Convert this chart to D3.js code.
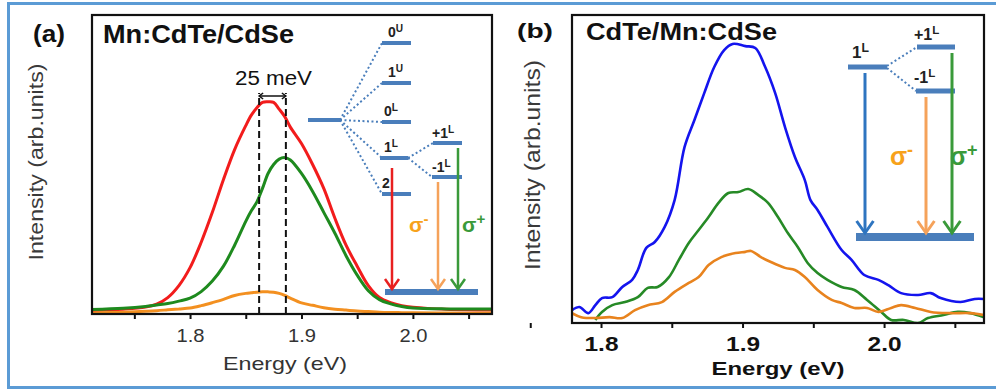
<!DOCTYPE html>
<html><head><meta charset="utf-8">
<script src="https://cdn.jsdelivr.net/npm/d3@7/dist/d3.min.js"></script>
<style>
body{margin:0;background:#fff}
svg{display:block}
text{font-family:"Liberation Sans",Arial,sans-serif}
</style>
</head><body>
<svg id="c" width="996" height="392"></svg>
<script>
// ---------- DATA ----------
// Panel (a): Mn:CdTe/CdSe
const energyA = [1.712,1.74,1.76,1.77,1.78,1.79,1.80,1.81,1.82,1.83,1.84,1.85,1.855,1.86,1.865,1.87,1.875,1.88,1.885,1.89,1.90,1.91,1.92,1.93,1.94,1.95,1.96,1.97,1.98,1.99,2.0,2.03,2.071];
const redA    = [1.2,1.6,2.3,3.3,5.5,9.5,15.5,24,34,45,55,63,66.5,69,70.8,71,70.8,68.5,66,62.5,57,50,42,32,23,16,9.5,5.5,3.8,2.8,2.3,1.6,1.3];
const greenA  = [1.5,1.9,2.5,3,3.5,4.3,5.3,7.5,11,16,23,31,34.5,37.5,42,47,50,51.8,52.3,51.5,47,41,34,27,19.5,13,7.8,4.8,3.4,2.5,2,1.7,1.7];
const orangeA = [0.3,0.6,0.9,1.1,1.4,1.7,2,2.8,3.8,4.9,6.2,6.9,7.1,7.3,7.4,7.4,7.3,6.9,6.2,5.3,3.7,2.9,2.1,1.6,1.3,1.0,0.8,0.6,0.5,0.45,0.4,0.3,0.3];
const peakMarksA = [1.862, 1.886];   // dashed lines, 25 meV splitting
const splitLabelA = "25 meV";

// Panel (b): CdTe/Mn:CdSe
const energyBlueB = [1.7795,1.7847,1.791,1.796,1.8007,1.808,1.815,1.822,1.826,1.832,1.838,1.845,1.852,1.859,1.866,1.873,1.880,1.887,1.893,1.902,1.909,1.916,1.923,1.930,1.937,1.944,1.948,1.953,1.960,1.970,1.977,1.986,1.996,2.003,2.012,2.024,2.033,2.040,2.054,2.064,2.0706];
const blueB = [4.2,5.2,3.2,5.8,8.1,8.4,11.7,14.0,17.2,24.4,26.3,31.2,39.9,57.1,65.9,74.7,83.1,88.6,90.6,89.9,89.3,83.1,74.7,63.6,53.9,46.4,39.9,36.7,31.2,23.7,20.5,15.6,14.0,12.3,9.7,9.1,9.7,8.1,6.8,7.8,7.8];
const energyGreenB = [1.796,1.8007,1.808,1.817,1.826,1.833,1.840,1.848,1.855,1.862,1.869,1.876,1.883,1.890,1.897,1.904,1.911,1.918,1.925,1.932,1.939,1.946,1.953,1.960,1.970,1.979,1.988,1.998,2.005,2.014,2.024,2.031,2.042,2.052,2.061,2.0706];
const greenB = [1.0,3.6,5.8,6.8,8.4,11.4,11.7,14.9,20.5,26.0,30.2,34.4,39.0,42.2,42.5,43.5,41.6,39.0,34.4,29.2,24.7,19.5,16.2,14.0,11.7,10.7,7.5,3.6,1.0,1.0,0,1.6,2.6,3.6,3.2,1.9];
const energyOrangeB = [1.7795,1.786,1.796,1.806,1.815,1.824,1.833,1.843,1.852,1.862,1.869,1.876,1.885,1.895,1.902,1.906,1.913,1.920,1.930,1.937,1.944,1.953,1.963,1.970,1.979,1.988,1.996,2.005,2.012,2.022,2.033,2.047,2.061,2.0706];
const orangeB = [3.2,1.9,1.6,1.9,1.6,4.2,5.8,6.8,10.1,13.0,14.9,18.8,21.4,22.7,23.1,23.4,21.4,19.8,17.9,17.2,14.9,10.7,7.5,6.5,4.9,4.9,3.6,4.9,5.8,4.9,3.6,3.2,3.2,2.6];

const majorTicks = [1.8, 1.9, 2.0];
const minorTicks = [1.75, 1.85, 1.95, 2.05];
const panelLabels = ["(a)", "(b)"];
const panelTitles = ["Mn:CdTe/CdSe", "CdTe/Mn:CdSe"];
const xTitle = "Energy (eV)";
const yTitle = "Intensity (arb.units)";

// ---------- DRAW ----------
const svg = d3.select("#c");
const FRAME = "#5b9bd5", LVL = "#4a7ebb";

// outer light-blue frame (top, left, bottom)
svg.append("path").attr("d","M1000,3.5 L8.5,3.5 L8.5,387.5 L1000,387.5")
  .attr("fill","none").attr("stroke",FRAME).attr("stroke-width",3);

function panel(opt){
  const g = svg.append("g");
  const x = d3.scaleLinear().domain(opt.xdom).range([opt.L, opt.R]);
  const y = d3.scaleLinear().domain([0,100]).range([opt.B, opt.T]);
  const cid = "clip"+opt.id;
  svg.append("clipPath").attr("id",cid).append("rect")
    .attr("x",opt.L).attr("y",opt.T).attr("width",opt.R-opt.L).attr("height",opt.B-opt.T);
  // ticks
  const ax = d3.axisBottom(x).tickValues(majorTicks).tickSize(5).tickFormat(d3.format(".1f"));
  const ga = g.append("g").attr("transform",`translate(0,${opt.B})`).call(ax);
  ga.select(".domain").remove();
  ga.selectAll("line").attr("stroke","#111").attr("stroke-width",2);
  ga.selectAll("text").attr("y",opt.tickY).attr("dy",0)
    .attr("font-size",opt.tickFS).attr("font-weight",opt.bold?"bold":"normal")
    .attr("fill",opt.bold?"#111":"#333").attr("font-family",'"Liberation Sans",Arial,sans-serif')
    .attr("textLength",opt.tickW).attr("lengthAdjust","spacingAndGlyphs");
  const am = d3.axisBottom(x).tickValues(minorTicks).tickSize(5).tickFormat("");
  const gm = g.append("g").attr("transform",`translate(0,${opt.B})`).call(am);
  gm.select(".domain").remove();
  gm.selectAll("line").attr("stroke","#111").attr("stroke-width",2);
  // curves
  const gl = g.append("g").attr("clip-path",`url(#${cid})`);
  opt.series.forEach(s=>{
    const line = d3.line().x((d,i)=>x(s.e[i])).y(d=>y(d)).curve(d3.curveCatmullRom.alpha(0.5));
    gl.append("path").datum(s.v).attr("d",line).attr("fill","none")
      .attr("stroke",s.c).attr("stroke-width",opt.lw).attr("stroke-linejoin","round");
  });
  // frame
  g.append("rect").attr("x",opt.L).attr("y",opt.T).attr("width",opt.R-opt.L).attr("height",opt.B-opt.T)
    .attr("fill","none").attr("stroke","#111").attr("stroke-width",2.2);
  // titles
  g.append("text").attr("x",(opt.L+opt.R)/2 + opt.xtDx).attr("y",opt.xtY).attr("text-anchor","middle")
    .attr("font-size",opt.xtFS).attr("font-weight",opt.bold?"bold":"normal").attr("fill",opt.bold?"#111":"#333")
    .attr("textLength",opt.xtW).attr("lengthAdjust","spacingAndGlyphs").text(xTitle);
  g.append("text").attr("transform",`translate(${opt.ytX},${opt.ytY}) rotate(-90)`).attr("text-anchor","middle")
    .attr("font-size",opt.ytFS).attr("fill","#3a3a3a")
    .attr("textLength",opt.ytW).attr("lengthAdjust","spacingAndGlyphs").text(yTitle);
  g.append("text").attr("x",opt.plX).attr("y",opt.plY).attr("font-size",opt.plFS).attr("font-weight","bold")
    .attr("fill","#111").attr("textLength",opt.plW).attr("lengthAdjust","spacingAndGlyphs").text(panelLabels[opt.id]);
  g.append("text").attr("x",opt.tX).attr("y",opt.tY).attr("font-size",opt.tFS).attr("font-weight","bold")
    .attr("fill","#111").attr("textLength",opt.tW).attr("lengthAdjust","spacingAndGlyphs").text(panelTitles[opt.id]);
  return {g,x,y};
}

const A = panel({id:0, xdom:[1.712,2.071], L:92, R:492, T:15, B:314, lw:3,
  series:[{e:energyA,v:redA,c:"#f21c1c"},{e:energyA,v:greenA,c:"#1e8a1e"},{e:energyA,v:orangeA,c:"#f39020"}],
  tickY:28, tickFS:19, tickW:28, bold:false,
  xtDx:-7, xtY:370, xtFS:19, xtW:124,
  ytX:43, ytY:162, ytFS:21, ytW:197,
  plX:33, plY:42, plFS:23, plW:32,
  tX:103, tY:43, tFS:25, tW:191});

const B = panel({id:1, xdom:[1.7795,2.0706], L:572, R:984, T:15, B:323, lw:2.6,
  series:[{e:energyBlueB,v:blueB,c:"#1414ee"},{e:energyGreenB,v:greenB,c:"#268a26"},{e:energyOrangeB,v:orangeB,c:"#e8831e"}],
  tickY:28, tickFS:21, tickW:34, bold:true,
  xtDx:0, xtY:375, xtFS:19, xtW:133,
  ytX:540, ytY:165, ytFS:22, ytW:210,
  plX:517, plY:38, plFS:21, plW:36,
  tX:586, tY:40, tFS:23, tW:191});

// dashed peak markers + 25 meV annotation (panel a)
const topY = 93;
peakMarksA.forEach(e=>{
  A.g.append("line").attr("x1",A.x(e)).attr("x2",A.x(e)).attr("y1",A.y(0)).attr("y2",topY)
    .attr("stroke","#111").attr("stroke-width",2).attr("stroke-dasharray","7,4");
});
(function(){
  const x1=A.x(peakMarksA[0]), x2=A.x(peakMarksA[1]), yy=topY+3;
  A.g.append("line").attr("x1",x1).attr("x2",x2).attr("y1",yy).attr("y2",yy).attr("stroke","#111").attr("stroke-width",1.5);
  A.g.append("path").attr("d",`M${x1+4},${yy-3} L${x1},${yy} L${x1+4},${yy+3} M${x2-4},${yy-3} L${x2},${yy} L${x2-4},${yy+3}`)
    .attr("fill","none").attr("stroke","#111").attr("stroke-width",1.5);
  A.g.append("text").attr("x",(x1+x2)/2+1).attr("y",85).attr("text-anchor","middle").attr("font-size",20)
    .attr("fill","#111").attr("textLength",77).attr("lengthAdjust","spacingAndGlyphs").text(splitLabelA);
})();

// ---------- energy-level schematics ----------
function bar(x1,x2,y,w){ svg.append("line").attr("x1",x1).attr("x2",x2).attr("y1",y).attr("y2",y)
  .attr("stroke",LVL).attr("stroke-width",w); }
function dots(x1,y1,x2,y2){ svg.append("line").attr("x1",x1).attr("y1",y1).attr("x2",x2).attr("y2",y2)
  .attr("stroke",LVL).attr("stroke-width",2).attr("stroke-dasharray","2,2.5"); }
function arrow(x,y1,y2,c,w,h){
  svg.append("line").attr("x1",x).attr("x2",x).attr("y1",y1).attr("y2",y2-1).attr("stroke",c).attr("stroke-width",w);
  svg.append("path").attr("d",`M${x-h*0.7},${y2-h} L${x},${y2} L${x+h*0.7},${y2-h}`)
    .attr("fill","none").attr("stroke",c).attr("stroke-width",w).attr("stroke-linejoin","miter");
}
function lab(x,y,main,sup,fs,c){
  const t = svg.append("text").attr("x",x).attr("y",y).attr("font-size",fs).attr("font-weight","bold").attr("fill",c||"#222");
  t.append("tspan").text(main);
  if(sup){ t.append("tspan").attr("dy",-fs*0.38).attr("font-size",fs*0.72).text(sup); }
}

// panel (a) schematic
const levA = [["0","U",43],["1","U",83],["0","L",122],["1","L",158],["2","",194]];
bar(308,340,120,4);
levA.forEach(([m,s,yy])=>{
  dots(340,120,382,yy);
  bar(s==="L"&&m==="1"?380:382, s==="L"&&m==="1"?408:411, yy, 4);
  lab(m==="2"?382:(s==="U"?388:384), yy-6, m, s, 14);
});
dots(408,158,433,143); dots(408,158,432,177);
bar(433,462,143,4); bar(432,462,177,4);
lab(432,138,"+1","L",14); lab(432,172,"-1","L",14);
bar(385,478,292,6);
arrow(392,168,289,"#e82020",2.5,10);
arrow(438,182,289,"#f5a25a",2.5,10);
arrow(458,148,289,"#3a9a3a",2.5,10);
lab(409,232,"σ","-",21,"#f7a21b");
lab(462,232,"σ","+",21,"#3a9a3a");

// panel (b) schematic
bar(848,887,67,5);
dots(887,66,917,47); dots(887,68,916,91);
bar(917,955,47,5); bar(916,955,91,5);
lab(852,58,"1","L",17); lab(914,40,"+1","L",16); lab(914,83,"-1","L",16);
bar(856,974,237,8);
arrow(865,73,233,"#2e75c0",3,12);
arrow(926,97,233,"#f5a25a",3,12);
arrow(952,53,233,"#3a9a3a",3,12);
lab(890,165,"σ","-",25,"#f7a21b");
lab(950,165,"σ","+",25,"#3a9a3a");
</script>
</body></html>
